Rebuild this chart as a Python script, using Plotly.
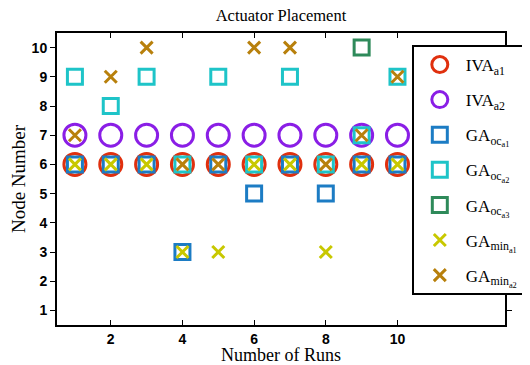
import plotly.graph_objects as go

runs = [1, 2, 3, 4, 5, 6, 7, 8, 9, 10]
iva_a1 = [6, 6, 6, 6, 6, 6, 6, 6, 6, 6]
iva_a2 = [7, 7, 7, 7, 7, 7, 7, 7, 7, 7]
ga_oc_a1 = [6, 6, 6, 3, 6, 5, 6, 5, 6, 6]
ga_oc_a2 = [9, 8, 9, 6, 9, 6, 9, 6, 7, 9]
ga_oc_a3 = [None, None, None, None, None, None, None, None, 10, None]
ga_min_a1 = [6, 6, 6, 3, 3, 6, 6, 3, 6, 6]
ga_min_a2 = [7, 9, 10, 6, 6, 10, 10, 6, 7, 9]

series = [
    ("IVA<sub>a1</sub>", iva_a1, "circle-open", "#e0300e", 22, 3),
    ("IVA<sub>a2</sub>", iva_a2, "circle-open", "#8a1ee6", 22, 3),
    ("GA<sub>oc<sub>a1</sub></sub>", ga_oc_a1, "square-open", "#1c7cc4", 15, 3),
    ("GA<sub>oc<sub>a2</sub></sub>", ga_oc_a2, "square-open", "#1ec4c8", 15, 3),
    ("GA<sub>oc<sub>a3</sub></sub>", ga_oc_a3, "square-open", "#2e8a5a", 15, 3),
    ("GA<sub>min<sub>a1</sub></sub>", ga_min_a1, "x-thin-open", "#c8c800", 12, 3),
    ("GA<sub>min<sub>a2</sub></sub>", ga_min_a2, "x-thin-open", "#b8800c", 12, 3),
]

fig = go.Figure()
for i, (name, ys, sym, col, size, lw) in enumerate(series):
    fig.add_trace(go.Scatter(
        x=runs, y=ys, mode="markers", name=name, legendgroup=f"g{i}",
        marker=dict(symbol=sym, size=size, color=col,
                    line=dict(color=col, width=lw)),
    ))

axis_common = dict(
    showline=True, linecolor="black", linewidth=2, mirror="ticks",
    showgrid=False, zeroline=False, automargin=False,
    tickfont=dict(family="Liberation Sans", size=14, color="black", weight="bold"),
    ticklen=5, tickwidth=1, tickcolor="black",
)

fig.update_layout(
    width=545, height=357,
    margin=dict(l=49, r=48, t=25, b=40),
    paper_bgcolor="white", plot_bgcolor="white",
    title=dict(text="Actuator Placement", x=0.5, xanchor="center",
               xref="paper", y=0.98, yanchor="middle",
               font=dict(family="Liberation Serif", size=16.5, color="black")),
    xaxis=dict(range=[0.5, 13], tickvals=[2, 4, 6, 8, 10], ticks="inside",
               title=dict(text="Number of Runs", standoff=0,
                          font=dict(family="Liberation Serif", size=18, color="black")),
               **axis_common),
    yaxis=dict(range=[0.5, 10.5], tickvals=list(range(1, 11)), ticks="outside",
               title=dict(text="Node Number", standoff=4,
                          font=dict(family="Liberation Serif", size=19, color="black")),
               **axis_common),
    legend=dict(x=0.792, y=0.959, xanchor="left", yanchor="top",
                bgcolor="white", bordercolor="black", borderwidth=2,
                font=dict(family="Liberation Serif", size=17, color="black"),
                tracegroupgap=10, itemwidth=42),
    showlegend=True,
)

fig.write_html("out.html")
